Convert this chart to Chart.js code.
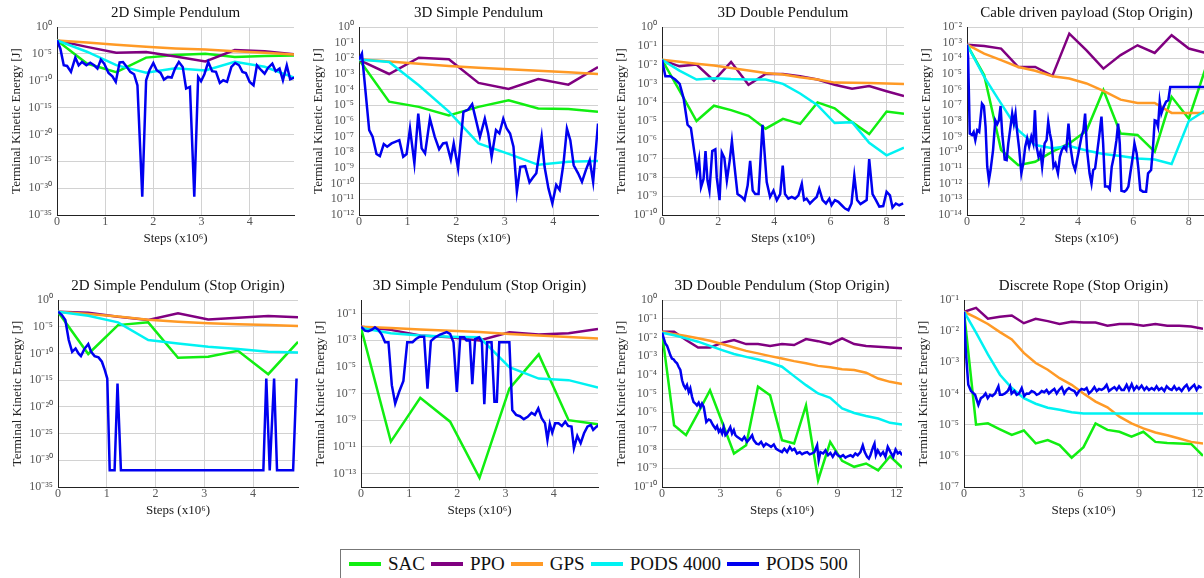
<!DOCTYPE html>
<html>
<head>
    <title>Terminal Kinetic Energy</title>
    <script src="https://cdn.jsdelivr.net/npm/chart.js"></script>
    <style>
        body { margin: 0; width: 1204px; height: 578px; overflow: hidden; background: #fff; position: relative; }
        canvas { position: absolute; }
        #legend {
            position: absolute; left: 340px; top: 549px; width: 520px; height: 40px;
            border: 1px solid #777; box-sizing: border-box;
            display: flex; align-items: center; height: 40px; padding: 0 0 10px 8px;
            font-family: 'Liberation Serif', 'Times New Roman', serif; font-size: 19px; color: #111;
        }
        #legend .item { display: flex; align-items: center; margin-right: 6px; }
        #legend .sw { width: 32px; height: 4px; margin-right: 7px; }
    </style>
</head>
<body>
    <div id="legend"></div>

    <script>
        // ---- data (x in 10^6 steps, y = terminal kinetic energy in J) ----
        const seriesNames = ['SAC', 'PPO', 'GPS', 'PODS 4000', 'PODS 500'];
        const titles = ['2D Simple Pendulum', '3D Simple Pendulum', '3D Double Pendulum', 'Cable driven payload (Stop Origin)',
            '2D Simple Pendulum (Stop Origin)', '3D Simple Pendulum (Stop Origin)', '3D Double Pendulum (Stop Origin)', 'Discrete Rope (Stop Origin)'];

        const xShort = [0, 0.62, 1.23, 1.85, 2.46, 3.08, 3.69, 4.31, 4.92];
        const xMid = [0, 0.62, 1.23, 1.85, 2.46, 3.08, 3.69, 4.31, 4.92, 5.54, 6.15, 6.77, 7.38, 8.0, 8.62];
        const xLong = [0, 0.62, 1.23, 1.85, 2.46, 3.08, 3.69, 4.31, 4.92, 5.54, 6.15, 6.77, 7.38, 8.0, 8.62, 9.23, 9.85, 10.46, 11.08, 11.69, 12.3];

        const xTicksShort = [0, 1, 2, 3, 4];
        const xTicksMid = [0, 2, 4, 6, 8];
        const xTicksLong = [0, 3, 6, 9, 12];

        const yExps35 = [0, -5, -10, -15, -20, -25, -30, -35];
        const yExps12 = [0, -1, -2, -3, -4, -5, -6, -7, -8, -9, -10, -11, -12];
        const yExps10 = [0, -1, -2, -3, -4, -5, -6, -7, -8, -9, -10];
        const yExps2to14 = [-2, -3, -4, -5, -6, -7, -8, -9, -10, -11, -12, -13, -14];
        const yExpsOdd = [-1, -3, -5, -7, -9, -11, -13];
        const yExps1to7 = [-1, -2, -3, -4, -5, -6, -7];

        // 2D Simple Pendulum
        const p1Sac = [3.2e-3, 1.6e-7, 4e-9, 2e-6, 6.3e-6, 1e-5, 2.5e-6, 4e-6, 5e-6];
        const p1Ppo = [3.2e-3, 2e-4, 1.6e-5, 2.2e-5, 3.2e-6, 4e-7, 5e-5, 3.2e-5, 8e-6];
        const p1Gps = [3.2e-3, 1.3e-3, 5e-4, 2e-4, 1e-4, 6.3e-5, 3.2e-5, 1.6e-5, 8e-6];
        const p1Pods4000 = [3.2e-3, 2.5e-5, 8e-8, 3.2e-9, 2e-8, 8e-9, 3.2e-7, 4e-8, 4e-10];
        const p1Pods500 = [[0,3.3e-3],[0.07,9e-5],[0.14,7.4e-8],[0.21,5.6e-8],[0.29,4.4e-9],[0.38,2e-6],[0.45,7.4e-8],[0.52,3.1e-7],[0.61,7.4e-8],[0.69,2.3e-7],
            [0.77,7.4e-8],[0.84,1.8e-8],[0.91,8.5e-7],[0.98,1.5e-7],[1.07,2.8e-9],[1.15,6.8e-10],[1.22,6e-11],[1.30,2.7e-7],[1.37,3.1e-7],[1.45,3.7e-8],
            [1.52,4.4e-9],[1.60,1.6e-9],[1.67,1.4e-11],[1.77,2.5e-32],[1.85,1.2e-10],[1.92,8.9e-9],[2.0,2e-7],[2.07,9e-9],[2.15,2.8e-9],[2.22,1.6e-10],
            [2.30,5.1e-10],[2.38,3.8e-10],[2.45,1.8e-8],[2.53,3.1e-7],[2.61,3.7e-8],[2.68,3.5e-12],[2.76,7e-12],[2.85,2.5e-32],[2.93,5.1e-10],[2.99,8e-11],
            [3.06,1.6e-9],[3.14,3.1e-7],[3.22,5.8e-9],[3.30,4.4e-9],[3.38,3.9e-11],[3.45,1.2e-10],[3.53,6e-11],[3.62,3.7e-8],[3.70,2e-7],[3.78,7.4e-8],
            [3.85,4.4e-9],[3.92,2.8e-9],[4.0,6e-11],[4.08,1.4e-11],[4.15,7.4e-8],[4.24,9e-9],[4.31,2.1e-9],[4.38,2.4e-8],[4.47,1.5e-7],[4.54,5.8e-9],
            [4.62,1.8e-8],[4.69,1.2e-10],[4.77,7.4e-8],[4.84,1.9e-10],[4.93,3.8e-10]];

        // 3D Simple Pendulum
        const p2Sac = [8.3e-3, 1.7e-5, 8e-6, 2.3e-6, 8e-6, 2.1e-5, 6.3e-6, 5.8e-6, 3.9e-6];
        const p2Ppo = [8e-3, 1e-3, 1.1e-2, 8.7e-3, 2.7e-4, 1.1e-4, 4.7e-4, 2.1e-4, 2.8e-3];
        const p2Gps = [8.9e-3, 6.3e-3, 4.5e-3, 3.2e-3, 2.5e-3, 2e-3, 1.6e-3, 1.3e-3, 1e-3];
        const p2Pods4000 = [8.3e-3, 5.9e-3, 1.9e-4, 4e-6, 3.7e-8, 8e-9, 1.6e-9, 2.5e-9, 2.8e-9];
        const p2Pods500 = [[0,8.3e-3],[0.06,2e-2],[0.21,2.6e-7],[0.28,9.8e-8],[0.36,7.8e-9],[0.43,5.8e-9],[0.51,3.4e-8],[0.58,2.3e-8],[0.67,3.7e-8],[0.83,6e-8],
            [0.91,5.2e-9],[0.98,7.8e-9],[1.05,3.3e-7],[1.14,2e-9],[1.22,3e-6],[1.29,1.8e-8],[1.36,8.5e-9],[1.46,1.4e-6],[1.56,9.8e-8],[1.65,1.6e-8],
            [1.73,3.7e-8],[1.80,4.1e-8],[1.89,3.5e-9],[1.95,3.7e-8],[2.04,9.5e-10],[2.15,3.9e-6],[2.25,5.4e-6],[2.33,1.2e-5],[2.41,1.1e-6],[2.49,9.8e-8],
            [2.59,1.4e-6],[2.66,1.6e-7],[2.73,5.2e-9],[2.82,2.6e-7],[2.89,1.6e-7],[2.97,1.4e-6],[3.04,3.3e-7],[3.11,1.6e-7],[3.18,2.3e-8],[3.25,3.1e-11],
            [3.32,1.2e-9],[3.42,1.3e-9],[3.51,1.2e-10],[3.57,2.2e-10],[3.65,4.6e-10],[3.72,1.4e-8],[3.76,9.8e-8],[3.82,1.2e-9],[3.90,5e-11],[3.98,5.6e-12],
            [4.06,8.3e-11],[4.13,4e-11],[4.21,2e-9],[4.28,3.3e-7],[4.35,6e-8],[4.42,1.5e-9],[4.51,4.6e-10],[4.59,1.3e-10],[4.67,7.4e-10],[4.75,3.2e-9],
            [4.82,1.3e-10],[4.92,6.9e-7]];

        // 3D Double Pendulum
        const p3Sac = [1.8e-2, 4.3e-4, 1e-5, 6.5e-5, 3.8e-5, 1.9e-5, 3.9e-6, 1.3e-5, 7e-6, 9.8e-5, 4.7e-5, 8.7e-6, 2e-6, 3.2e-5, 2.4e-5];
        const p3Ppo = [1.8e-2, 8.1e-3, 1e-2, 1.4e-3, 1.4e-2, 8.5e-4, 3.2e-3, 3.2e-3, 2.4e-3, 1.6e-3, 8.5e-4, 5.2e-4, 7.2e-4, 3.8e-4, 2.1e-4];
        const p3Gps = [1.8e-2, 1.4e-2, 1.1e-2, 8.9e-3, 6.6e-3, 4.8e-3, 3.6e-3, 3e-3, 2.1e-3, 1.6e-3, 1.1e-3, 1.07e-3, 1.05e-3, 1e-3, 9.3e-4];
        const p3Pods4000 = [1.8e-2, 4.8e-3, 1.6e-3, 1.9e-3, 1.7e-3, 1.6e-3, 1.6e-3, 9.5e-4, 2.9e-4, 7e-5, 7.8e-6, 8.7e-6, 6.9e-7, 1.5e-7, 3.8e-7];
        const p3Pods500 = [[0,1.8e-2],[0.12,2.4e-3],[0.30,2.4e-3],[0.47,1.6e-3],[0.63,9.5e-4],[0.77,1.6e-4],[0.91,6.3e-6],[1.03,4.2e-6],[1.18,1.1e-7],[1.24,1.9e-8],
            [1.32,9.3e-8],[1.39,3e-9],[1.48,8.3e-9],[1.55,2.5e-7],[1.62,6.8e-9],[1.69,2e-9],[1.79,2.5e-7],[1.90,3.1e-7],[1.95,1e-8],[2.05,6.2e-10],
            [2.13,2.1e-7],[2.22,1.1e-7],[2.31,6.8e-9],[2.41,7.6e-8],[2.49,8.5e-7],[2.58,4.2e-8],[2.69,1.3e-9],[2.84,9.1e-10],[2.94,6.2e-10],[3.05,3.7e-9],
            [3.14,7.6e-8],[3.23,2e-9],[3.32,1.3e-9],[3.44,1.3e-9],[3.58,6.3e-6],[3.73,5.6e-9],[3.85,9.1e-10],[3.97,2e-9],[4.09,6.2e-10],[4.21,1.3e-9],
            [4.30,4.2e-8],[4.38,1.3e-9],[4.50,7.4e-10],[4.62,9.1e-10],[4.74,7.4e-10],[4.86,1.1e-9],[4.98,4.6e-9],[5.06,6.2e-10],[5.15,7.4e-10],[5.27,4.1e-10],
            [5.39,6.2e-10],[5.51,9.1e-10],[5.60,2.5e-9],[5.72,6.2e-10],[5.84,4.1e-10],[5.96,7.4e-10],[6.04,3.3e-10],[6.16,6.2e-10],[6.28,5e-10],[6.40,3.3e-10],
            [6.52,2.2e-10],[6.64,1.8e-10],[6.75,4.1e-10],[6.85,1.2e-8],[6.95,6.2e-10],[7.07,3.8e-10],[7.19,5e-10],[7.29,6.2e-10],[7.38,9.3e-8],[7.50,1.3e-9],
            [7.62,6.2e-10],[7.74,2.8e-10],[7.88,3e-10],[8.0,1.7e-9],[8.12,1.1e-9],[8.21,2.5e-10],[8.33,4.1e-10],[8.45,3.3e-10],[8.59,4.1e-10]];

        // Cable driven payload (Stop Origin)
        const p4Sac = [7.4e-4, 8.3e-6, 1.4e-10, 1.5e-11, 2.5e-11, 1.1e-10, 3.7e-10, 2.4e-9, 9.3e-7, 1.6e-9, 1.3e-9, 1.1e-10, 3.5e-7, 1.4e-8, 2.8e-5];
        const p4Ppo = [7.4e-4, 6.2e-4, 4.2e-4, 2.8e-5, 2.8e-5, 7.6e-6, 3.8e-3, 3.2e-4, 2.2e-5, 1.6e-4, 6.8e-4, 2.2e-4, 3e-3, 4.2e-4, 2.2e-4];
        const p4Gps = [7.4e-4, 2e-4, 7.6e-5, 2.8e-5, 1.6e-5, 7.2e-6, 5.1e-6, 2.5e-6, 8.3e-7, 2.3e-7, 1.4e-7, 1.4e-7, 3.3e-8, 3.3e-8, 3.3e-8];
        const p4Pods4000 = [7.4e-4, 6.6e-6, 1.3e-7, 2.6e-9, 2.9e-10, 1.8e-10, 2.5e-10, 1.3e-10, 7.8e-11, 5.8e-11, 4.1e-11, 3.5e-11, 1.8e-11, 1e-8, 5e-8];
        const p4Pods500 = [[0,7.4e-4],[0.04,1.2e-4],[0.10,1.6e-9],[0.18,1.3e-9],[0.24,2e-9],[0.30,6e-10],[0.37,2.6e-9],[0.44,2e-9],[0.54,1.3e-7],[0.61,8.9e-8],
            [0.67,4.3e-9],[0.73,1.2e-11],[0.79,1.7e-12],[0.85,7.4e-12],[0.94,1.4e-10],[1.02,1.1e-8],[1.09,6.3e-9],[1.15,1.1e-8],[1.21,8.9e-8],[1.27,1.6e-9],
            [1.36,3.5e-11],[1.43,3.2e-11],[1.49,3.7e-10],[1.57,4.3e-9],[1.63,3e-8],[1.69,6.9e-9],[1.75,3e-8],[1.81,2e-9],[1.88,1.8e-10],[1.96,4.6e-12],
            [2.03,2e-11],[2.10,2.3e-10],[2.17,7.8e-10],[2.24,2.3e-10],[2.32,1e-9],[2.39,3.7e-10],[2.45,4.9e-8],[2.51,2.3e-10],[2.58,5.2e-11],[2.65,1.1e-10],
            [2.71,1.2e-11],[2.80,3.7e-10],[2.87,6e-10],[2.93,8.9e-9],[2.99,1.6e-9],[3.05,4.8e-10],[3.12,1.2e-11],[3.19,2e-11],[3.28,4.6e-12],[3.35,5.2e-11],
            [3.42,1.4e-10],[3.50,2.3e-10],[3.58,1.4e-10],[3.66,6.9e-9],[3.73,2.3e-10],[3.82,2e-11],[3.90,7.4e-12],[3.97,3.2e-11],[4.06,2.3e-10],[4.13,1e-9],
            [4.20,2.6e-9],[4.26,3e-8],[4.33,1.4e-10],[4.42,4.6e-12],[4.49,1e-12],[4.55,7.4e-12],[4.62,9.5e-12],[4.69,8.5e-11],[4.78,1.6e-9],[4.85,1.9e-8],
            [4.91,3.7e-10],[4.98,6.5e-13],[5.08,6.5e-13],[5.15,4.4e-13],[5.22,1.2e-11],[5.32,8.5e-11],[5.39,6e-10],[5.45,6.9e-9],[5.51,3.7e-10],[5.57,3.5e-13],
            [5.68,3.1e-13],[5.75,4e-13],[5.82,6.5e-13],[5.89,4.6e-12],[5.98,5.2e-11],[6.04,3.7e-10],[6.12,8.5e-11],[6.18,9.5e-12],[6.25,4e-13],[6.35,3.1e-13],
            [6.46,3.1e-13],[6.53,4.6e-12],[6.64,7.4e-12],[6.71,2.3e-10],[6.77,1.1e-8],[6.83,1e-8],[6.89,4.3e-9],[6.95,1.7e-7],[7.01,3e-8],[7.09,8e-8],
            [7.18,1.7e-7],[7.26,2.1e-7],[7.33,1.5e-6],[8.0,1.5e-6],[8.62,1.5e-6]];

        // 2D Simple Pendulum (Stop Origin)
        const p5Sac = [6.3e-3, 7.9e-11, 2e-5, 6.5e-5, 1.5e-11, 2.3e-11, 3.2e-10, 1.3e-14, 1.5e-8];
        const p5Ppo = [6.3e-3, 4e-3, 7.4e-4, 1.8e-4, 3.2e-3, 2.3e-4, 5e-4, 1e-3, 5.6e-4];
        const p5Gps = [6.3e-3, 2.5e-3, 7.9e-4, 2e-4, 8.9e-5, 4.5e-5, 2.8e-5, 2e-5, 1.3e-5];
        const p5Pods4000 = [6.3e-3, 1.1e-3, 6.5e-5, 3.2e-8, 7.4e-9, 1.8e-9, 6.5e-10, 2e-10, 1.5e-10];
        const p5Pods500 = [[0,6.5e-3],[0.08,1.5e-3],[0.15,1.8e-4],[0.22,3.2e-8],[0.29,2e-10],[0.36,8.7e-10],[0.42,1e-10],[0.47,3.2e-11],[0.54,6.5e-10],[0.62,5.6e-9],
            [0.68,2e-10],[0.75,3.2e-11],[0.83,1.8e-11],[0.90,2.8e-12],[0.96,7.4e-14],[1.01,2e-15],[1.06,1.3e-32],[1.16,1.3e-32],[1.22,2.3e-16],[1.29,1.3e-32],
            [1.85,1.3e-32],[2.46,1.3e-32],[3.08,1.3e-32],[3.69,1.3e-32],[4.21,1.3e-32],[4.27,2e-15],[4.34,1.3e-32],[4.43,2e-15],[4.49,1.3e-32],[4.82,1.3e-32],
            [4.89,2e-15]];

        // 3D Simple Pendulum (Stop Origin)
        const p6Sac = [8.1e-3, 2.5e-11, 4.8e-8, 7.8e-10, 4.8e-14, 2.3e-7, 8.5e-5, 1e-9, 4.9e-10];
        const p6Ppo = [1e-2, 5.8e-3, 2.2e-3, 1.6e-3, 9.3e-4, 3.9e-3, 2.6e-3, 3.2e-3, 6.8e-3];
        const p6Gps = [1e-2, 7.9e-3, 6.3e-3, 5e-3, 4e-3, 2.8e-3, 2.2e-3, 1.7e-3, 1.3e-3];
        const p6Pods4000 = [8.1e-3, 3.2e-3, 2.2e-3, 1.8e-3, 1.6e-3, 9.5e-6, 1.3e-6, 1e-6, 2.8e-7];
        const p6Pods500 = [[0,1e-2],[0.08,5.1e-3],[0.15,4.6e-3],[0.22,5.8e-3],[0.29,9.1e-3],[0.36,5.8e-3],[0.43,2.6e-3],[0.50,6.9e-4],[0.57,6.9e-4],[0.64,4.2e-7],
            [0.71,1.8e-8],[0.79,1.3e-7],[0.88,8.7e-7],[0.96,6.9e-4],[1.07,6.9e-4],[1.14,1.2e-3],[1.22,1.8e-3],[1.31,1.8e-3],[1.38,2.3e-7],[1.45,8.3e-4],
            [1.54,1.6e-3],[1.64,2.6e-3],[1.78,3.9e-3],[1.85,2.9e-3],[1.92,6.9e-4],[1.99,1.3e-7],[2.06,1.6e-3],[2.14,1.6e-3],[2.19,9.3e-4],[2.26,9.3e-4],
            [2.31,4.9e-7],[2.37,1.2e-3],[2.45,1.6e-3],[2.51,6.9e-4],[2.56,1.6e-8],[2.62,6.9e-4],[2.71,6.9e-4],[2.77,2.4e-8],[2.82,2.4e-8],[2.87,6.9e-4],
            [3.02,6.9e-4],[3.08,6.9e-4],[3.14,5.8e-9],[3.22,2.5e-9],[3.30,2e-9],[3.38,1.2e-9],[3.46,1.8e-9],[3.54,3.6e-9],[3.61,2.5e-9],[3.68,7.6e-9],
            [3.75,1.4e-9],[3.82,5.9e-10],[3.87,3.4e-11],[3.92,5.2e-10],[3.97,1.2e-10],[4.03,5.9e-10],[4.10,5.9e-10],[4.17,3.7e-10],[4.24,7.8e-10],[4.30,3.7e-10],
            [4.37,3.3e-10],[4.42,8.1e-12],[4.49,6.8e-11],[4.56,1.9e-11],[4.63,1.05e-10],[4.70,3.3e-10],[4.77,4.4e-10],[4.82,1.9e-10],[4.89,3.3e-10],[4.94,4.4e-10]];

        // 3D Double Pendulum (Stop Origin)
        const p7Sac = [1.8e-2, 2e-7, 5.9e-8, 9.1e-7, 1.5e-5, 3e-7, 6.2e-9, 1.7e-8, 2.3e-5, 8.1e-6, 3.2e-8, 2.1e-8, 2.3e-6, 2.3e-10, 2.6e-8, 2.5e-9, 1.2e-9, 1.8e-9, 7.8e-10, 4.4e-9, 1.1e-9];
        const p7Ppo = [2e-2, 2e-2, 7.2e-3, 2.9e-3, 2.9e-3, 5.1e-3, 7.2e-3, 4.4e-3, 4.4e-3, 3.5e-3, 4.4e-3, 3.9e-3, 8.1e-3, 6.3e-3, 4.4e-3, 8.9e-3, 4.4e-3, 3.5e-3, 3.2e-3, 2.9e-3, 2.6e-3];
        const p7Gps = [2e-2, 1.5e-2, 1.2e-2, 8.9e-3, 6.6e-3, 4.4e-3, 2.9e-3, 1.9e-3, 1.4e-3, 1e-3, 7.4e-4, 5.4e-4, 4.1e-4, 3e-4, 2.5e-4, 2e-4, 1.8e-4, 1.3e-4, 6.3e-5, 4.2e-5, 3.2e-5];
        const p7Pods4000 = [1.8e-2, 1.3e-2, 8.9e-3, 5.9e-3, 3.5e-3, 2.1e-3, 1.3e-3, 9.1e-4, 6.6e-4, 4.4e-4, 2.7e-4, 8.5e-5, 2.8e-5, 1e-5, 5.9e-6, 1.6e-6, 9.1e-7, 6.2e-7, 4.6e-7, 2.7e-7, 2.2e-7];
        const p7Pods500 = [[0,1.8e-2],[0.09,8.9e-3],[0.17,4.8e-3],[0.26,3.5e-3],[0.34,2.1e-3],[0.43,1.1e-3],[0.51,7.4e-4],[0.60,6.6e-4],[0.68,5e-4],[0.77,4.1e-4],
            [0.85,2.7e-4],[0.94,1.8e-4],[1.03,5.1e-5],[1.11,2.8e-5],[1.20,1.9e-5],[1.28,2.8e-5],[1.37,1.2e-5],[1.45,1.9e-5],[1.54,6.6e-6],[1.62,3.5e-6],
            [1.71,2.9e-6],[1.79,2.3e-6],[1.88,3.2e-6],[1.97,1.9e-6],[2.05,2.9e-6],[2.14,1.9e-6],[2.27,3e-7],[2.39,4.1e-7],[2.48,3.7e-7],[2.62,2e-7],
            [2.74,1.3e-7],[2.82,1.8e-7],[2.91,8.9e-8],[2.99,1.2e-7],[3.08,7.2e-8],[3.16,1.6e-7],[3.25,5.9e-8],[3.33,7.2e-8],[3.42,1.1e-7],[3.50,1.6e-7],
            [3.59,7.2e-8],[3.68,1.1e-7],[3.76,5.9e-8],[3.85,4.8e-8],[3.98,3.9e-8],[4.10,3.2e-8],[4.22,4.8e-8],[4.36,2.6e-8],[4.50,3.9e-8],[4.62,5.9e-8],
            [4.70,3.2e-8],[4.84,2.1e-8],[4.96,1.9e-8],[5.08,2.6e-8],[5.21,1.5e-8],[5.33,2.1e-8],[5.47,1.7e-8],[5.59,1.4e-8],[5.73,1.9e-8],[5.85,1.1e-8],
            [5.98,9.1e-9],[6.15,7.4e-9],[6.27,1.1e-8],[6.41,7.4e-9],[6.55,1.4e-8],[6.67,9.1e-9],[6.79,1.1e-8],[6.92,6.2e-9],[7.06,7.4e-9],[7.18,5.6e-9],
            [7.30,6.6e-9],[7.44,7.4e-9],[7.57,5.6e-9],[7.69,6.2e-9],[7.81,7.4e-9],[7.95,1.7e-8],[8.03,2.7e-9],[8.12,7.4e-9],[8.26,6.2e-9],[8.38,9.1e-9],
            [8.51,5e-9],[8.63,6.6e-9],[8.75,4.1e-9],[8.89,7.4e-9],[9.01,5e-9],[9.15,4.1e-9],[9.28,5e-9],[9.40,3.7e-9],[9.52,4.4e-9],[9.66,5e-9],
            [9.78,4.1e-9],[9.91,6.2e-9],[10.03,5e-9],[10.17,7.4e-9],[10.29,1.7e-8],[10.39,7.4e-9],[10.51,4.1e-9],[10.60,3.3e-9],[10.68,5e-9],[10.82,1.4e-8],
            [10.89,2.1e-8],[10.96,5e-9],[11.06,9.1e-9],[11.20,5e-9],[11.33,7.4e-9],[11.45,4.1e-9],[11.57,1.4e-8],[11.71,7.4e-9],[11.85,4.1e-9],[11.97,1e-8],
            [12.09,6.2e-9],[12.19,7.4e-9],[12.31,5e-9]];

        // Discrete Rope (Stop Origin)
        const p8Sac = [4.2e-2, 1e-5, 1.1e-5, 7.1e-6, 4.7e-6, 6.5e-6, 2.5e-6, 3.2e-6, 2.2e-6, 8.7e-7, 1.9e-6, 1.1e-5, 6.8e-6, 5.9e-6, 4.1e-6, 5.9e-6, 2.8e-6, 2.6e-6, 2.5e-6, 2.4e-6, 1e-6];
        const p8Ppo = [4.2e-2, 5.6e-2, 2.5e-2, 2.9e-2, 3.2e-2, 1.8e-2, 2.5e-2, 2.1e-2, 1.7e-2, 2e-2, 1.9e-2, 1.9e-2, 1.5e-2, 1.7e-2, 1.7e-2, 1.5e-2, 1.7e-2, 1.5e-2, 1.5e-2, 1.4e-2, 1.2e-2];
        const p8Gps = [4.2e-2, 2.7e-2, 1.7e-2, 9.3e-3, 5.4e-3, 2e-3, 9.5e-4, 5.8e-4, 3.1e-4, 1.9e-4, 1e-4, 5.5e-5, 3.6e-5, 1.8e-5, 1.1e-5, 7.6e-6, 5.6e-6, 4.6e-6, 3.6e-6, 2.8e-6, 2.5e-6];
        const p8Pods4000 = [4.2e-2, 8.9e-3, 1.8e-3, 4e-4, 1.5e-4, 7.1e-5, 4.7e-5, 3.5e-5, 3e-5, 2.5e-5, 2.3e-5, 2.3e-5, 2.3e-5, 2.3e-5, 2.3e-5, 2.3e-5, 2.3e-5, 2.3e-5, 2.3e-5, 2.3e-5, 2.3e-5];
        const p8Pods500 = [[0,4.2e-2],[0.10,2e-3],[0.22,1.9e-4],[0.36,1.2e-4],[0.57,9.1e-5],[0.74,4.3e-5],[0.87,7.1e-5],[0.99,8e-5],[1.11,1e-4],[1.22,7.1e-5],
            [1.34,9.1e-5],[1.46,8.3e-5],[1.60,1e-4],[1.77,1.7e-4],[1.85,9.1e-5],[1.97,9.1e-5],[2.11,1e-4],[2.25,1.2e-4],[2.37,1.7e-4],[2.45,1e-4],
            [2.59,1.2e-4],[2.71,9.1e-5],[2.83,1e-4],[2.97,1.5e-4],[3.10,8.3e-5],[3.22,1e-4],[3.34,9.8e-5],[3.48,1.2e-4],[3.62,1.1e-4],[3.74,9.1e-5],
            [3.86,9.8e-5],[4.0,1.2e-4],[4.13,1.1e-4],[4.25,1.3e-4],[4.37,1e-4],[4.51,1.2e-4],[4.65,1.4e-4],[4.77,1e-4],[4.89,1.3e-4],[5.03,1.6e-4],
            [5.16,1e-4],[5.28,1.3e-4],[5.40,1.5e-4],[5.54,1.3e-4],[5.68,1.2e-4],[5.80,9.1e-5],[5.92,1.2e-4],[6.05,1.4e-4],[6.19,1.3e-4],[6.31,1.5e-4],
            [6.43,1e-4],[6.57,1.2e-4],[6.71,1.6e-4],[6.83,1.2e-4],[6.95,1.4e-4],[7.08,1.3e-4],[7.22,1.5e-4],[7.34,1.9e-4],[7.46,1.2e-4],[7.60,1.4e-4],
            [7.74,1.6e-4],[7.86,1.3e-4],[7.98,1.7e-4],[8.11,1.3e-4],[8.23,1.3e-4],[8.37,1.9e-4],[8.49,1.3e-4],[8.63,2e-4],[8.75,1.3e-4],[8.89,1.7e-4],
            [9.0,1.4e-4],[9.14,1.8e-4],[9.28,1.3e-4],[9.40,1.6e-4],[9.52,1.3e-4],[9.66,1.5e-4],[9.79,1.3e-4],[9.91,1.7e-4],[10.03,1.3e-4],[10.17,1.5e-4],
            [10.31,1.2e-4],[10.43,1.7e-4],[10.57,1.4e-4],[10.69,1.3e-4],[10.82,1.7e-4],[10.94,1.3e-4],[11.06,1.5e-4],[11.20,1.2e-4],[11.34,1.6e-4],[11.46,1.9e-4],
            [11.58,1.3e-4],[11.72,1.6e-4],[11.85,1.9e-4],[11.97,1.3e-4],[12.09,1.7e-4],[12.23,1.5e-4]];

        // ---- styling / layout ----
        const COLORS = ['#11ee11', '#800080', '#ff9a26', '#00f2f2', '#0000f0'];
        const SERIF = "'Liberation Serif', 'Times New Roman', serif";
        const AXIS_W = 57, TITLE_H = 27, XAXIS_H = 34, PAD_R = 8;
        const SUP = {'0':'⁰','1':'¹','2':'²','3':'³','4':'⁴','5':'⁵','6':'⁶','7':'⁷','8':'⁸','9':'⁹','-':'⁻'};

        function powLabel(v) {
            const e = Math.round(Math.log10(v));
            return '10' + String(e).split('').map(c => SUP[c]).join('');
        }

        const panels = [
            { title: titles[0], box: [57, 27, 294, 215], x: xShort, xMax: 4.92, xTicks: xTicksShort, yMin: 1e-35, yMax: 1, yExps: yExps35,
              lines: [p1Sac, p1Ppo, p1Gps, p1Pods4000], dense: p1Pods500 },
            { title: titles[1], box: [359, 27, 598, 215], x: xShort, xMax: 4.92, xTicks: xTicksShort, yMin: 1e-12, yMax: 1, yExps: yExps12,
              lines: [p2Sac, p2Ppo, p2Gps, p2Pods4000], dense: p2Pods500 },
            { title: titles[2], box: [662, 27, 904, 215], x: xMid, xMax: 8.62, xTicks: xTicksMid, yMin: 1e-10, yMax: 1, yExps: yExps10,
              lines: [p3Sac, p3Ppo, p3Gps, p3Pods4000], dense: p3Pods500 },
            { title: titles[3], box: [967, 27, 1206, 215], x: xMid, xMax: 8.62, xTicks: xTicksMid, yMin: 1e-14, yMax: 1e-2, yExps: yExps2to14,
              lines: [p4Sac, p4Ppo, p4Gps, p4Pods4000], dense: p4Pods500 },
            { title: titles[4], box: [58, 300, 298, 487], x: xShort, xMax: 4.92, xTicks: xTicksShort, yMin: 1e-35, yMax: 1, yExps: yExps35,
              lines: [p5Sac, p5Ppo, p5Gps, p5Pods4000], dense: p5Pods500 },
            { title: titles[5], box: [361, 300, 598, 487], x: xShort, xMax: 4.92, xTicks: xTicksShort, yMin: 1e-14, yMax: 1, yExps: yExpsOdd,
              lines: [p6Sac, p6Ppo, p6Gps, p6Pods4000], dense: p6Pods500 },
            { title: titles[6], box: [662, 300, 902, 487], x: xLong, xMax: 12.3, xTicks: xTicksLong, yMin: 1e-10, yMax: 1, yExps: yExps10,
              lines: [p7Sac, p7Ppo, p7Gps, p7Pods4000], dense: p7Pods500 },
            { title: titles[7], box: [964, 300, 1203, 487], x: xLong, xMax: 12.3, xTicks: xTicksLong, yMin: 1e-7, yMax: 1e-1, yExps: yExps1to7,
              lines: [p8Sac, p8Ppo, p8Gps, p8Pods4000], dense: p8Pods500 }
        ];

        function lineSet(i, data) {
            return {
                label: seriesNames[i], data: data,
                borderColor: COLORS[i], backgroundColor: COLORS[i],
                borderWidth: 2.5, pointRadius: 0, tension: 0, fill: false,
                order: 5 - i
            };
        }

        function drawPanel(p) {
            const [L, T, R, B] = p.box;
            const w = R - L + AXIS_W + PAD_R;
            const h = B - T + TITLE_H + XAXIS_H;
            const canvas = document.createElement('canvas');
            canvas.width = w;
            canvas.height = h;
            canvas.style.left = (L - AXIS_W) + 'px';
            canvas.style.top = (T - TITLE_H) + 'px';
            canvas.style.width = w + 'px';
            canvas.style.height = h + 'px';
            document.body.appendChild(canvas);

            const datasets = p.lines.map((ys, i) => lineSet(i, p.x.map((x, k) => ({ x: x, y: ys[k] }))));
            datasets.push(lineSet(4, p.dense.map(pt => ({ x: pt[0], y: pt[1] }))));

            const tickFont = { family: SERIF, size: 12 };
            const axisFont = { family: SERIF, size: 13 };

            new Chart(canvas, {
                type: 'line',
                data: { datasets: datasets },
                options: {
                    responsive: false,
                    animation: false,
                    layout: { padding: { right: PAD_R } },
                    plugins: {
                        legend: { display: false },
                        tooltip: { enabled: false },
                        title: {
                            display: true, text: p.title, fullSize: false,
                            font: { family: SERIF, size: 15, weight: 'normal' }, color: '#111',
                            padding: { top: 4, bottom: 5 }
                        }
                    },
                    scales: {
                        x: {
                            type: 'linear', min: 0, max: p.xMax,
                            afterBuildTicks: s => { s.ticks = p.xTicks.map(v => ({ value: v })); },
                            afterFit: s => { s.height = XAXIS_H; },
                            grid: { color: '#d2d2d2', lineWidth: 1, drawTicks: false },
                            border: { color: '#222', width: 1 },
                            ticks: { padding: 0, font: tickFont, color: '#555', maxRotation: 0, autoSkip: false },
                            title: { display: true, text: 'Steps (x10⁶)', font: axisFont, color: '#222', padding: { top: 0, bottom: 3 } }
                        },
                        y: {
                            type: 'logarithmic', min: p.yMin, max: p.yMax,
                            afterBuildTicks: s => { s.ticks = p.yExps.map(e => ({ value: Math.pow(10, e) })); },
                            afterFit: s => { s.width = AXIS_W; },
                            grid: { color: '#d2d2d2', lineWidth: 1, drawTicks: false },
                            border: { color: '#222', width: 1 },
                            ticks: { padding: 5, font: tickFont, color: '#555', autoSkip: false, callback: v => powLabel(v) },
                            title: { display: true, text: 'Terminal Kinetic Energy [J]', font: axisFont, color: '#222', padding: { top: 9, bottom: 0 } }
                        }
                    }
                }
            });
        }

        panels.forEach(drawPanel);

        // shared legend
        const legend = document.getElementById('legend');
        seriesNames.forEach((name, i) => {
            const item = document.createElement('div');
            item.className = 'item';
            const sw = document.createElement('span');
            sw.className = 'sw';
            sw.style.background = COLORS[i];
            const label = document.createElement('span');
            label.textContent = name;
            item.appendChild(sw);
            item.appendChild(label);
            legend.appendChild(item);
        });
    </script>
</body>
</html>
